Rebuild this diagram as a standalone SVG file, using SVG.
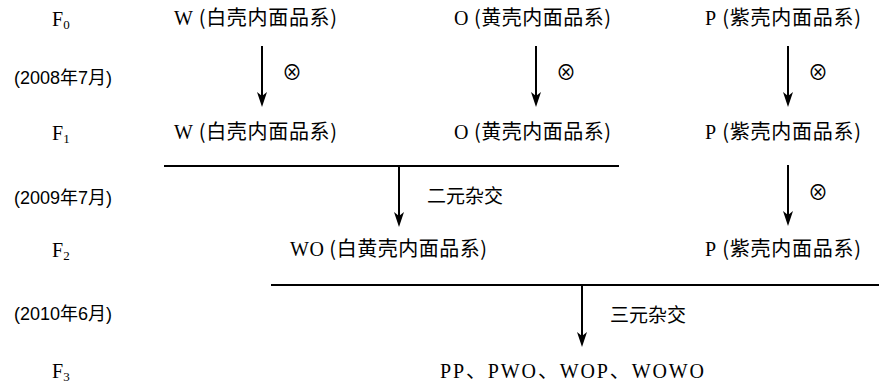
<svg xmlns="http://www.w3.org/2000/svg" width="879" height="385" viewBox="0 0 879 385">
<style>
text{fill:#000;font-family:"Noto Sans CJK SC","Liberation Sans",sans-serif;font-size:20px}
.lat{font-family:"Liberation Serif","Times New Roman",serif}
.date{font-family:"Liberation Sans","Noto Sans CJK SC",sans-serif;font-size:18px}
.sub{font-size:13px}
.lbl{font-size:19px}
.ln{stroke:#000;stroke-width:2;fill:none}
</style>
<defs>
<marker id="ah" markerUnits="userSpaceOnUse" markerWidth="16" markerHeight="10" refX="4" refY="5" orient="auto" viewBox="0 0 16 10">
<path d="M0,0 L15,5 L0,10 L4,5 Z" fill="#000"/>
</marker>
</defs>
<g id="row-labels">
<text class="lat" x="52" y="26">F<tspan class="sub" dy="3">0</tspan></text>
<text class="date" x="14" y="84">(2008年7月)</text>
<text class="lat" x="52" y="140">F<tspan class="sub" dy="3">1</tspan></text>
<text class="date" x="14" y="204">(2009年7月)</text>
<text class="lat" x="52" y="257">F<tspan class="sub" dy="3">2</tspan></text>
<text class="date" x="14" y="320">(2010年6月)</text>
<text class="lat" x="52" y="378">F<tspan class="sub" dy="3">3</tspan></text>
</g>
<g id="F0-W"><text x="174" y="25" textLength="163"><tspan class="lat">W</tspan> (白壳内面品系)</text></g>
<g id="F0-O"><text x="454" y="25" textLength="157"><tspan class="lat">O</tspan> (黄壳内面品系)</text></g>
<g id="F0-P"><text x="705" y="25" textLength="156"><tspan class="lat">P</tspan> (紫壳内面品系)</text></g>
<g id="F1-W"><text x="174" y="139" textLength="163"><tspan class="lat">W</tspan> (白壳内面品系)</text></g>
<g id="F1-O"><text x="454" y="139" textLength="157"><tspan class="lat">O</tspan> (黄壳内面品系)</text></g>
<g id="F1-P"><text x="705" y="139" textLength="156"><tspan class="lat">P</tspan> (紫壳内面品系)</text></g>
<g id="F2-WO"><text x="290" y="256" textLength="197"><tspan class="lat">WO</tspan> (白黄壳内面品系)</text></g>
<g id="F2-P"><text x="705" y="256" textLength="156"><tspan class="lat">P</tspan> (紫壳内面品系)</text></g>
<g id="F3"><text class="lat" x="440" y="378" font-size="21" textLength="264">PP<tspan font-family="Noto Sans CJK SC">、</tspan>PWO<tspan font-family="Noto Sans CJK SC">、</tspan>WOP<tspan font-family="Noto Sans CJK SC">、</tspan>WOWO</text></g>
<g id="connectors">
<line class="ln" x1="262" y1="46" x2="262" y2="96" marker-end="url(#ah)"/>
<line class="ln" x1="536" y1="46" x2="536" y2="96" marker-end="url(#ah)"/>
<line class="ln" x1="788" y1="46" x2="788" y2="96" marker-end="url(#ah)"/>
<line class="ln" x1="164" y1="166" x2="619" y2="166"/>
<line class="ln" x1="399" y1="166" x2="399" y2="216" marker-end="url(#ah)"/>
<line class="ln" x1="788" y1="165" x2="788" y2="215" marker-end="url(#ah)"/>
<line class="ln" x1="271" y1="285" x2="879" y2="285"/>
<line class="ln" x1="582" y1="285" x2="582" y2="336" marker-end="url(#ah)"/>
</g>
<g id="connector-labels">
<text x="292" y="80" text-anchor="middle" font-size="17">⊗</text>
<text x="566" y="80" text-anchor="middle" font-size="17">⊗</text>
<text x="818" y="80" text-anchor="middle" font-size="17">⊗</text>
<text x="818" y="200" text-anchor="middle" font-size="17">⊗</text>
<text class="lbl" x="427" y="203">二元杂交</text>
<text class="lbl" x="610" y="322">三元杂交</text>
</g>
</svg>
